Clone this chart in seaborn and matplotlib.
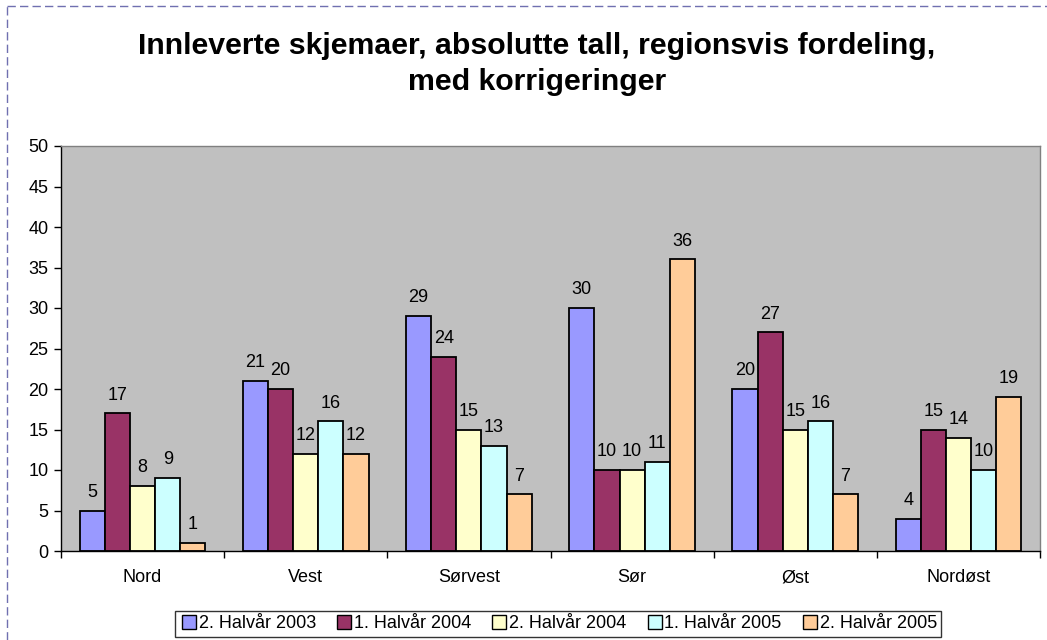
import matplotlib
matplotlib.use('Agg')
import matplotlib.pyplot as plt
from matplotlib.lines import Line2D
import pandas as pd
import seaborn as sns


# Data

regions = ['Nord', 'Vest', 'Sørvest', 'Sør', 'Øst', 'Nordøst']
series = ['2. Halvår 2003', '1. Halvår 2004', '2. Halvår 2004', '1. Halvår 2005', '2. Halvår 2005']
h2_2003 = [5, 21, 29, 30, 20, 4]
h1_2004 = [17, 20, 24, 10, 27, 15]
h2_2004 = [8, 12, 15, 10, 15, 14]
h1_2005 = [9, 16, 13, 11, 16, 10]
h2_2005 = [1, 12, 7, 36, 7, 19]
colors = ['#9999FF', '#993366', '#FFFFCC', '#CCFFFF', '#FFCC99']

rows = []
for name, vals in zip(series, [h2_2003, h1_2004, h2_2004, h1_2005, h2_2005]):
    for reg, v in zip(regions, vals):
        rows.append({'Region': reg, 'Periode': name, 'Antall': v})
df = pd.DataFrame(rows)

sns.set_style('white')
plt.rcParams['font.family'] = ['Liberation Sans', 'DejaVu Sans']
plt.rcParams['text.color'] = 'black'
plt.rcParams['xtick.color'] = 'black'
plt.rcParams['ytick.color'] = 'black'

fig = plt.figure(figsize=(10.47, 6.4), dpi=100)
ax = fig.add_axes([61 / 1047, 1 - 551 / 640, 979 / 1047, 405 / 640])
ax.set_facecolor('#C0C0C0')

sns.barplot(data=df, x='Region', y='Antall', hue='Periode', order=regions,
            hue_order=series, palette=colors, width=0.77, edgecolor='black',
            linewidth=1.3, saturation=1, legend=False, ax=ax)

for cont in ax.containers:
    ax.bar_label(cont, padding=7, fontsize=13, color='black')

ax.set_ylim(0, 50)
ax.set_xlim(-0.5, 5.5)
ax.set_yticks(range(0, 51, 5))
ax.set_xlabel('')
ax.set_ylabel('')
ax.tick_params(axis='y', labelsize=13, length=5, width=1, direction='out', left=True, color='black', pad=4)
ax.tick_params(axis='x', labelsize=13, length=0, pad=13)
ax.set_xticks([i + 0.5 for i in range(-1, 6)], minor=True)
ax.tick_params(axis='x', which='minor', length=5, width=1, bottom=True, color='black')
for s in ['left', 'bottom']:
    ax.spines[s].set_color('black')
    ax.spines[s].set_linewidth(1)
for s in ['top', 'right']:
    ax.spines[s].set_color('#808080')
    ax.spines[s].set_linewidth(1)

fig.text(537 / 1047, 1 - 64 / 640, 'Innleverte skjemaer, absolutte tall, regionsvis fordeling,\nmed korrigeringer',
         ha='center', va='center', fontsize=21.8, fontweight='bold', linespacing=1.4, color='black')

handles = [Line2D([], [], marker='s', linestyle='', markersize=10, markerfacecolor=c,
                  markeredgecolor='black', markeredgewidth=1) for c in colors]
leg = fig.legend(handles, series, loc='center', bbox_to_anchor=(558 / 1047, 1 - 624 / 640),
                 ncol=5, fontsize=13, frameon=True, fancybox=False, handletextpad=0.0,
                 columnspacing=1.0, borderpad=0.25, handlelength=1.1)
leg.get_frame().set_edgecolor('black')
leg.get_frame().set_linewidth(1)

# dashed outer border of the chart area
fig.add_artist(Line2D([7 / 1047, 1.0], [1 - 6 / 640, 1 - 6 / 640], color='#7070B0',
                      linestyle=(0, (6, 3)), linewidth=1))
fig.add_artist(Line2D([7 / 1047, 7 / 1047], [0.0, 1 - 6 / 640], color='#7070B0',
                      linestyle=(0, (6, 3)), linewidth=1))

fig.savefig('out.png', dpi=100)
